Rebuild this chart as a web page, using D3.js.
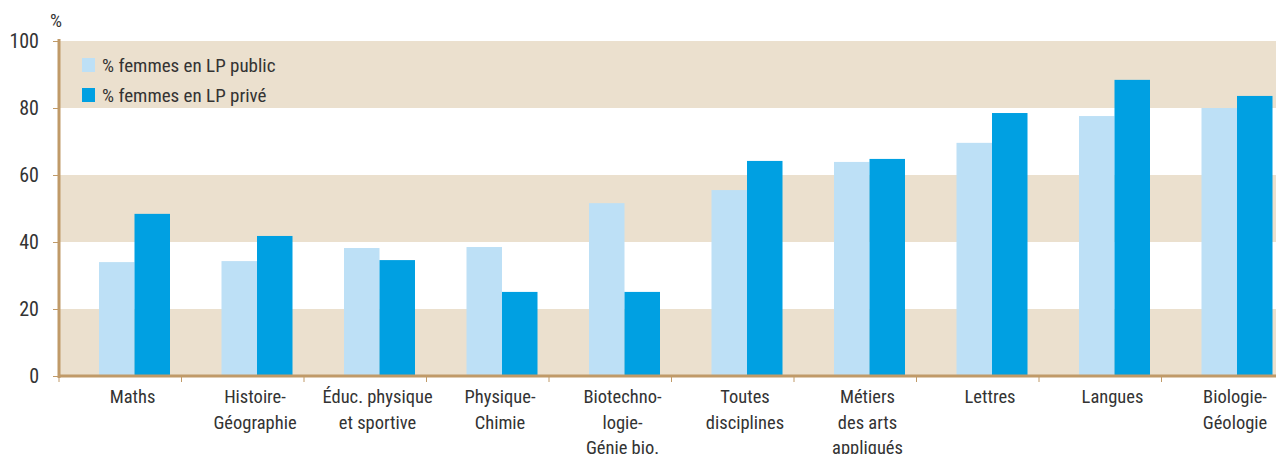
<!DOCTYPE html>
<html>
<head>
<meta charset="utf-8">
<script src="https://cdn.jsdelivr.net/npm/d3@7"></script>
<style>
  body { margin: 0; background: #fff; }
  svg text { font-family: "Liberation Sans Narrow", "Roboto Condensed", "Liberation Sans", sans-serif; fill: #333; }
</style>
</head>
<body>
<svg width="1276" height="454"></svg>
<script>
const svg = d3.select('svg');

const categories = [
  ['Maths'],
  ['Histoire-', 'Géographie'],
  ['Éduc. physique', 'et sportive'],
  ['Physique-', 'Chimie'],
  ['Biotechno-', 'logie-', 'Génie bio.'],
  ['Toutes', 'disciplines'],
  ['Métiers', 'des arts', 'appliqués'],
  ['Lettres'],
  ['Langues'],
  ['Biologie-', 'Géologie']
];
const publicVals = [34.0, 34.3, 38.2, 38.5, 51.6, 55.5, 63.9, 69.6, 77.6, 80.0];
const priveVals = [48.4, 41.8, 34.6, 25.1, 25.1, 64.2, 64.8, 78.5, 88.4, 83.6];
const seriesNames = ['% femmes en LP public', '% femmes en LP privé'];
const yTicks = [0, 20, 40, 60, 80, 100];

const colors = ['#bde0f6', '#00a0e2'];
const brown = '#c09a68';
const band = '#ebe0ce';

const plotLeft = 59, plotTop = 41, plotBottom = 376;
const bandW = 122.5;
const x = d3.scaleBand().domain(d3.range(categories.length)).range([plotLeft, plotLeft + bandW * categories.length]);
const y = d3.scaleLinear().domain([0, 100]).range([plotBottom, plotTop]);

// bandes de fond
const stripes = [[0, 20], [40, 60], [80, 100]];
svg.selectAll('rect.stripe').data(stripes).enter().append('rect')
  .attr('x', plotLeft).attr('width', 1276 - plotLeft)
  .attr('y', d => y(d[1])).attr('height', d => y(d[0]) - y(d[1]))
  .attr('fill', band);

// barres
const barW = 35.5, offset = 40;
const g = svg.selectAll('g.cat').data(categories).enter().append('g')
  .attr('transform', (d, i) => `translate(${x(i) + offset},0)`);
g.append('rect').attr('x', 0).attr('width', barW)
  .attr('y', (d, i) => y(publicVals[i])).attr('height', (d, i) => plotBottom - y(publicVals[i]))
  .attr('fill', colors[0]);
g.append('rect').attr('x', barW).attr('width', barW)
  .attr('y', (d, i) => y(priveVals[i])).attr('height', (d, i) => plotBottom - y(priveVals[i]))
  .attr('fill', colors[1]);

// axe y
const yAxis = svg.append('g').attr('transform', `translate(${plotLeft},0)`)
  .call(d3.axisLeft(y).tickValues(yTicks).tickSize(6).tickPadding(14));
yAxis.select('.domain').remove();
yAxis.selectAll('line').attr('stroke', brown);
yAxis.selectAll('text').style('font-size', '20px').attr('fill', '#333');
svg.append('line').attr('x1', plotLeft).attr('x2', plotLeft).attr('y1', plotTop - 2).attr('y2', plotBottom + 2)
  .attr('stroke', brown).attr('stroke-width', 3);
svg.append('text').attr('x', 50).attr('y', 27).style('font-size', '19px').text('%');

// axe x
svg.append('line').attr('x1', plotLeft).attr('x2', 1276).attr('y1', plotBottom).attr('y2', plotBottom)
  .attr('stroke', brown).attr('stroke-width', 3);
svg.selectAll('line.xtick').data(d3.range(categories.length + 1)).enter().append('line')
  .attr('x1', i => plotLeft + i * bandW).attr('x2', i => plotLeft + i * bandW)
  .attr('y1', plotBottom).attr('y2', plotBottom + 6)
  .attr('stroke', brown).attr('stroke-width', 1);

const labels = svg.selectAll('text.xlab').data(categories).enter().append('text')
  .attr('text-anchor', 'middle').style('font-size', '18.5px')
  .attr('transform', (d, i) => `translate(${x(i) + offset + barW - 2},403)`);
labels.selectAll('tspan').data(d => d).enter().append('tspan')
  .attr('x', 0).attr('y', (d, j) => j * 25.5).text(d => d);

// légende
const leg = svg.selectAll('g.leg').data(seriesNames).enter().append('g')
  .attr('transform', (d, i) => `translate(82,${58 + i * 30})`);
leg.append('rect').attr('width', 13).attr('height', 14).attr('fill', (d, i) => colors[i]);
leg.append('text').attr('x', 20).attr('y', 14).style('font-size', '19px').text(d => d);
</script>
</body>
</html>
